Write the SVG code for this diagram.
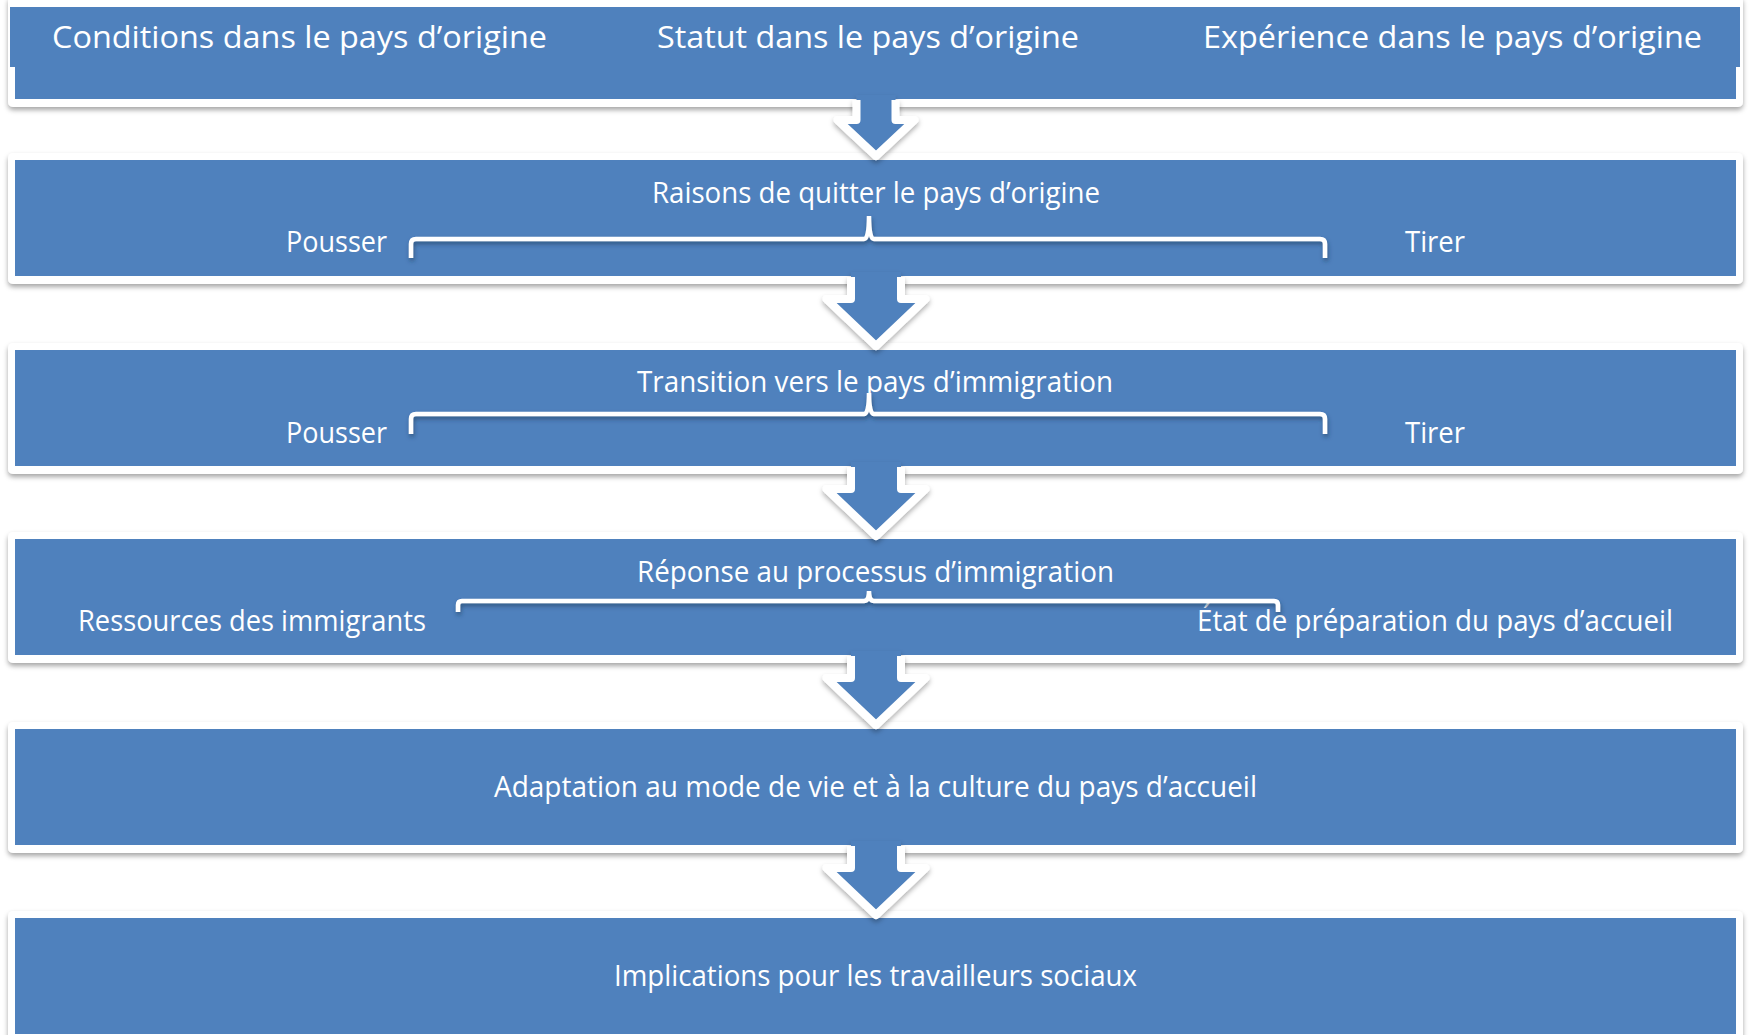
<svg xmlns="http://www.w3.org/2000/svg" width="1750" height="1035" viewBox="0 0 1750 1035">
<defs>
<style>
.frame{fill:#ffffff;filter:url(#sh)}
.box{fill:#4f81bd}
.t{fill:#ffffff;font-family:"Open Sans","Noto Sans","Liberation Sans",sans-serif;font-size:29px}
.t1{font-size:31.5px}
.br{fill:none;stroke:#ffffff;stroke-width:4.5;filter:url(#sh2)}
.af{fill:#4f81bd}
.as{fill:none;stroke:#ffffff;stroke-width:8;stroke-linejoin:round}
</style>
<filter id="sh" x="-5%" y="-20%" width="110%" height="140%">
<feDropShadow dx="0" dy="3" stdDeviation="2.5" flood-color="#000" flood-opacity="0.35"/>
</filter>
<filter id="sh2" x="-5%" y="-50%" width="110%" height="200%">
<feDropShadow dx="1" dy="3" stdDeviation="2" flood-color="#1f3a5f" flood-opacity="0.6"/>
</filter>
<filter id="sh3" x="-30%" y="-30%" width="160%" height="160%">
<feDropShadow dx="0" dy="3" stdDeviation="2.5" flood-color="#000" flood-opacity="0.3"/>
</filter>
</defs>
<rect width="1750" height="1035" fill="#ffffff"/>

<g id="n1">
<rect class="frame" x="8" y="-4" width="1735" height="111" rx="5"/>
<rect class="box" x="15" y="7" width="1721" height="92"/>
<rect class="box" x="10" y="7" width="1730" height="60"/>
<text class="t t1" x="52" y="48" textLength="495" lengthAdjust="spacingAndGlyphs">Conditions dans le pays d’origine</text>
<text class="t t1" x="657" y="48" textLength="422" lengthAdjust="spacingAndGlyphs">Statut dans le pays d’origine</text>
<text class="t t1" x="1203" y="48" textLength="499" lengthAdjust="spacingAndGlyphs">Expérience dans le pays d’origine</text>
</g>

<g id="n2">
<rect class="frame" x="8" y="153" width="1735" height="131" rx="5"/>
<rect class="box" x="15" y="160" width="1721" height="116"/>
<text class="t" x="652" y="203" textLength="448" lengthAdjust="spacingAndGlyphs">Raisons de quitter le pays d’origine</text>
<text class="t" x="286" y="252" textLength="101" lengthAdjust="spacingAndGlyphs">Pousser</text>
<text class="t" x="1405" y="252" textLength="60" lengthAdjust="spacingAndGlyphs">Tirer</text>
<path class="br" d="M411,258 V244 Q411,239 416,239 H864 Q869,239 869,216 Q869,239 874,239 H1320 Q1325,239 1325,244 V258"/>
</g>

<g id="n3">
<rect class="frame" x="8" y="343" width="1735" height="131" rx="5"/>
<rect class="box" x="15" y="350" width="1721" height="116"/>
<text class="t" x="637" y="392" textLength="476" lengthAdjust="spacingAndGlyphs">Transition vers le pays d’immigration</text>
<text class="t" x="286" y="443" textLength="101" lengthAdjust="spacingAndGlyphs">Pousser</text>
<text class="t" x="1405" y="443" textLength="60" lengthAdjust="spacingAndGlyphs">Tirer</text>
<path class="br" d="M411,434 V419 Q411,414 416,414 H864 Q869,414 869,393 Q869,414 874,414 H1320 Q1325,414 1325,419 V434"/>
</g>

<g id="n4">
<rect class="frame" x="8" y="532" width="1735" height="131" rx="5"/>
<rect class="box" x="15" y="539" width="1721" height="116"/>
<text class="t" x="637" y="582" textLength="477" lengthAdjust="spacingAndGlyphs">Réponse au processus d’immigration</text>
<text class="t" x="78" y="631" textLength="348" lengthAdjust="spacingAndGlyphs">Ressources des immigrants</text>
<text class="t" x="1197" y="631" textLength="476" lengthAdjust="spacingAndGlyphs">État de préparation du pays d’accueil</text>
<path class="br" d="M458,612 V605 Q458,601 462,601 H864 Q869,601 869,591 Q869,601 874,601 H1274 Q1278,601 1278,605 V612"/>
</g>

<g id="n5">
<rect class="frame" x="8" y="722" width="1735" height="131" rx="5"/>
<rect class="box" x="15" y="729" width="1721" height="116"/>
<text class="t" x="494" y="797" textLength="763" lengthAdjust="spacingAndGlyphs">Adaptation au mode de vie et à la culture du pays d’accueil</text>
</g>

<g id="n6">
<rect class="frame" x="8" y="911" width="1735" height="131" rx="5"/>
<rect class="box" x="15" y="918" width="1721" height="116"/>
<text class="t" x="614" y="986" textLength="523" lengthAdjust="spacingAndGlyphs">Implications pour les travailleurs sociaux</text>
</g>

<g id="connectors">
<g filter="url(#sh3)">
<path class="af" d="M856.5,95 V120 H837.5 L876,156 L914.5,120 H895.5 V95 Z"/>
<path class="as" d="M856.5,100 V120 H837.5 L876,156 L914.5,120 H895.5 V100"/>
</g>
<g filter="url(#sh3)">
<path class="af" d="M851,272 V299 H826.5 L876,346 L925.5,299 H901 V272 Z"/>
<path class="as" d="M851,277 V299 H826.5 L876,346 L925.5,299 H901 V277"/>
</g>
<g filter="url(#sh3)">
<path class="af" d="M851,462 V489 H826.5 L876,536 L925.5,489 H901 V462 Z"/>
<path class="as" d="M851,467 V489 H826.5 L876,536 L925.5,489 H901 V467"/>
</g>
<g filter="url(#sh3)">
<path class="af" d="M851,651 V678 H826.5 L876,725 L925.5,678 H901 V651 Z"/>
<path class="as" d="M851,656 V678 H826.5 L876,725 L925.5,678 H901 V656"/>
</g>
<g filter="url(#sh3)">
<path class="af" d="M851,841 V868 H826.5 L876,915 L925.5,868 H901 V841 Z"/>
<path class="as" d="M851,846 V868 H826.5 L876,915 L925.5,868 H901 V846"/>
</g>
</g>
</svg>
